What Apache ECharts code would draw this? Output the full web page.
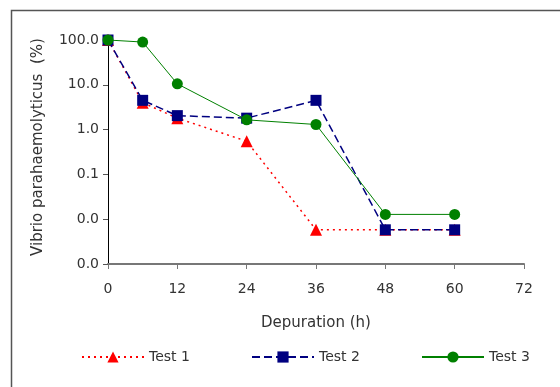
<!DOCTYPE html>
<html><head><meta charset="utf-8">
<script src="https://cdn.jsdelivr.net/npm/echarts@6/dist/echarts.min.js"></script>
<style>html,body{margin:0;padding:0;background:#fff}#c{width:560px;height:387px}</style>
</head><body><div id="c"></div>
<script>
const hours = [0, 6, 12, 24, 36, 48, 60];
const test1 = [100, 4, 1.8, 0.55, 0.0058, 0.0058, 0.0058];
const test2 = [100, 4.5, 2.05, 1.8, 4.5, 0.0058, 0.0058];
const test3 = [100, 90, 10.5, 1.65, 1.3, 0.0128, 0.0128];
const seriesNames = ['Test 1', 'Test 2', 'Test 3'];
const xTicks = [0, 12, 24, 36, 48, 60, 72];
const yTicks = [0.001, 0.01, 0.1, 1, 10, 100];

const font = 'DejaVu Sans';
const chart = echarts.init(document.getElementById('c'), null, {renderer: 'canvas'});
const pair = a => hours.map((h, i) => [h, a[i]]);
const legendBase = {
  orient: 'horizontal', top: 350, padding: 0, itemWidth: 62, itemHeight: 14, itemGap: 4,
  textStyle: {fontFamily: font, fontSize: 14, color: '#333'}
};
chart.setOption({
  animation: false,
  backgroundColor: '#fff',
  grid: {left: 108, right: 36, top: 40, bottom: 123},
  graphic: [{type: 'rect', shape: {x: 11.5, y: 10.5, width: 560, height: 400},
    style: {fill: 'none', stroke: '#555', lineWidth: 1.5}, z: -1}],
  legend: [
    Object.assign({}, legendBase, {left: 81, data: [seriesNames[0]]}),
    Object.assign({}, legendBase, {left: 251, data: [seriesNames[1]]}),
    Object.assign({}, legendBase, {left: 421, data: [seriesNames[2]]})
  ],
  xAxis: {
    type: 'value', min: 0, max: 72, interval: 12,
    name: 'Depuration (h)', nameLocation: 'middle', nameGap: 52,
    nameTextStyle: {fontFamily: font, fontSize: 15, color: '#333'},
    axisLine: {lineStyle: {color: '#777', width: 2}},
    axisTick: {show: true, length: 5, lineStyle: {color: '#777', width: 1}},
    axisLabel: {fontFamily: font, fontSize: 14, color: '#333', margin: 18},
    splitLine: {show: false}
  },
  yAxis: {
    type: 'log', logBase: 10, min: 0.001, max: 100,
    name: 'Vibrio parahaemolyticus  (%)', nameLocation: 'middle', nameGap: 62,
    nameTextStyle: {fontFamily: font, fontSize: 15, color: '#333', padding: [0, 0, 0, 10]},
    axisLine: {show: true, lineStyle: {color: '#000', width: 1}},
    axisTick: {show: true, length: 5, lineStyle: {color: '#555'}},
    axisLabel: {fontFamily: font, fontSize: 14, color: '#333', margin: 9,
      formatter: v => Number(v).toFixed(1)},
    splitLine: {show: false},
    minorTick: {show: false}
  },
  series: [
    {name: seriesNames[0], type: 'line', data: pair(test1), symbol: 'triangle', symbolSize: 12,
      itemStyle: {color: '#ff0000'}, lineStyle: {color: '#ff0000', width: 1.5, type: [2, 4]}, z: 2},
    {name: seriesNames[1], type: 'line', data: pair(test2), symbol: 'rect', symbolSize: 11,
      itemStyle: {color: '#000080'}, lineStyle: {color: '#000080', width: 1.5, type: [8, 4]}, z: 3},
    {name: seriesNames[2], type: 'line', data: pair(test3), symbol: 'circle', symbolSize: 11,
      itemStyle: {color: '#008000'}, lineStyle: {color: '#008000', width: 1}, z: 4}
  ]
});
</script></body></html>
